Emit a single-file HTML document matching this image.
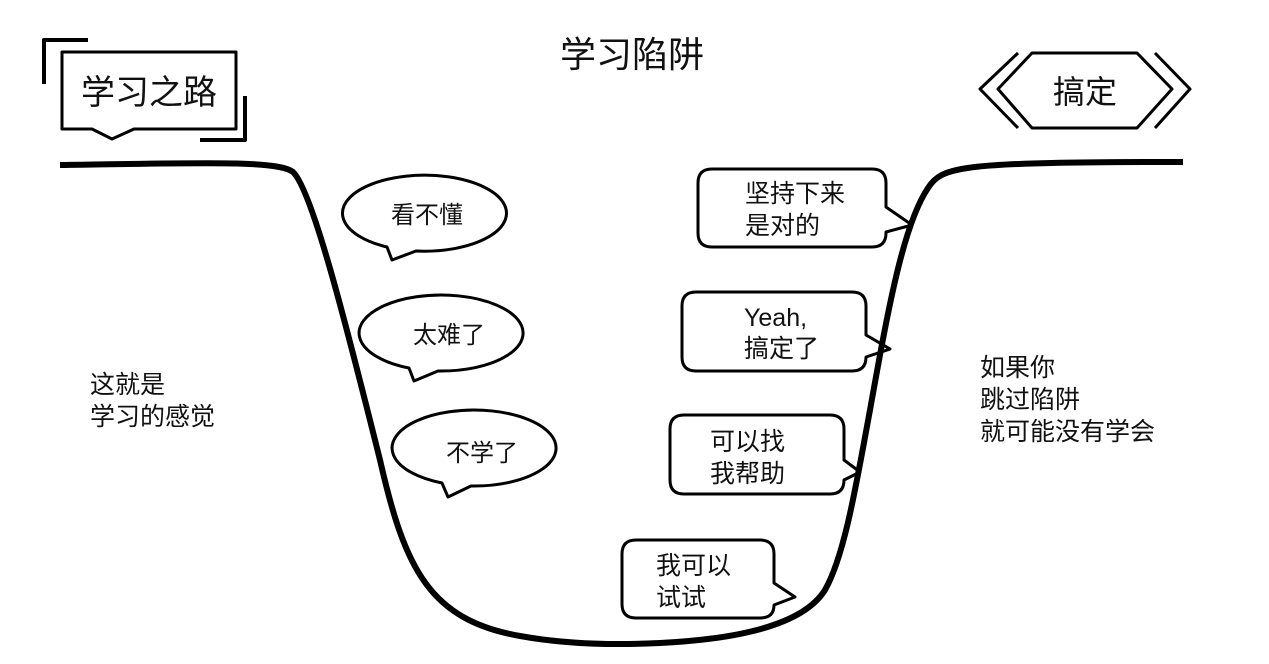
<!DOCTYPE html>
<html><head><meta charset="utf-8"><style>
html,body{margin:0;padding:0;background:#fff;}
svg{display:block;}
text{font-family:"Liberation Sans","Noto Sans CJK SC",sans-serif;fill:#111;}
</style></head><body>
<svg width="1269" height="664" viewBox="0 0 1269 664" xmlns="http://www.w3.org/2000/svg">
<g fill="none" stroke="#000" stroke-linejoin="round">
<path stroke-width="6" d="M60,165 C200,163 278,160 293,172 C312,190 345,320 380,460 C405,570 430,620 520,636 C570,645 620,645 660,643 C720,640 800,630 825,590 C845,555 857,480 870,410 C888,310 903,225 928,188 C942,166 960,162 1183,162"/>
<path stroke-width="4" d="M44,84 L44,40 L88,40"/>
<path stroke-width="4" d="M245,96 L245,140 L200,140"/>
<path stroke-width="3" d="M62,52 L236,52 L236,129 L134,129 L112,139 L92,129 L62,129 Z"/>
<path stroke-width="3" d="M998,89 L1032,53 L1137,53 L1172,89 L1137,128 L1032,128 Z"/>
<path stroke-width="3" d="M1018,53 L980,89 L1018,128"/>
<path stroke-width="3" d="M1155,53 L1190,89 L1155,128"/>
<path stroke-width="3" d="M387,247 A82,38 0 1 1 416,251 L392,260 Z" />
<path stroke-width="3" d="M409,368 A82,38 0 1 1 438,371 L414,381 Z" />
<path stroke-width="3" d="M442,483 A82,38 0 1 1 471,486 L448,497 Z" />
<path stroke-width="3" d="M712,169 H872 Q886,169 886,183 V207 L912,225 L886,232 V233 Q886,247 872,247 H712 Q698,247 698,233 V183 Q698,169 712,169 Z"/>
<path stroke-width="3" d="M696,292 H852 Q866,292 866,306 V335 L890,349 L866,357 Q866,371 852,371 H696 Q682,371 682,357 V306 Q682,292 696,292 Z"/>
<path stroke-width="3" d="M684,415 H830 Q844,415 844,429 V460 L860,472 L844,480 Q844,494 830,494 H684 Q670,494 670,480 V429 Q670,415 684,415 Z"/>
<path stroke-width="3" d="M636,540 H760 Q774,540 774,554 V583 L795,597 L774,605 Q774,618 760,618 H636 Q622,618 622,604 V554 Q622,540 636,540 Z"/>
</g>
<text x="632" y="67" font-size="36" text-anchor="middle">学习陷阱</text>
<text x="149" y="104" font-size="34" text-anchor="middle">学习之路</text>
<text x="1085" y="103" font-size="32" text-anchor="middle">搞定</text>
<text x="427" y="223" font-size="24" text-anchor="middle">看不懂</text>
<text x="449" y="343" font-size="24" text-anchor="middle">太难了</text>
<text x="482" y="461" font-size="24" text-anchor="middle">不学了</text>
<g font-size="25">
<text x="745" y="202">坚持下来</text><text x="745" y="234">是对的</text>
<text x="744" y="326">Yeah,</text><text x="744" y="357">搞定了</text>
<text x="710" y="450">可以找</text><text x="710" y="482">我帮助</text>
<text x="656" y="574">我可以</text><text x="656" y="606">试试</text>
<text x="90" y="393">这就是</text><text x="90" y="425">学习的感觉</text>
<text x="980" y="376">如果你</text><text x="980" y="408">跳过陷阱</text><text x="980" y="440">就可能没有学会</text>
</g>
</svg>
</body></html>
